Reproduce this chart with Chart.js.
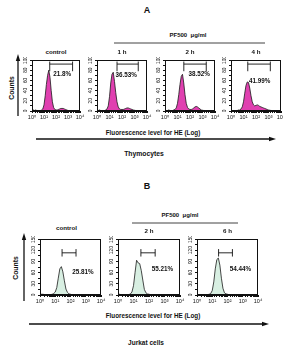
<!DOCTYPE html>
<html><head><meta charset="utf-8">
<script src="https://cdn.jsdelivr.net/npm/chart.js@4.4.1/dist/chart.umd.min.js"></script>
<style>
html,body{margin:0;padding:0;background:#fff;}
body{width:283px;height:350px;position:relative;overflow:hidden;font-family:"Liberation Sans",Arial,sans-serif;-webkit-font-smoothing:antialiased;}
.t{position:absolute;transform:translate(-50%,-50%);white-space:nowrap;font-weight:bold;color:#111;line-height:1;}
.v{position:absolute;transform:translate(-50%,-50%) rotate(-90deg);white-space:nowrap;font-weight:bold;color:#111;line-height:1;}
svg{position:absolute;left:0;top:0;}
</style></head><body>
<svg width="283" height="350">
  <g stroke="#111" fill="#111">
    <line x1="114" y1="43" x2="265" y2="43" stroke-width="0.8"/>
    <line x1="18" y1="116" x2="18" y2="60" stroke-width="1.3"/>
    <polygon points="18,54 15.8,61 20.2,61" stroke="none"/>
    <line x1="36" y1="139" x2="270" y2="139" stroke-width="1.3"/>
    <polygon points="276,139 269,136.8 269,141.2" stroke="none"/>
    <line x1="132" y1="223" x2="238" y2="223" stroke-width="0.8"/>
    <line x1="24" y1="301" x2="24" y2="239" stroke-width="1.3"/>
    <polygon points="24,233 21.8,240 26.2,240" stroke="none"/>
    <line x1="29" y1="324" x2="263" y2="324" stroke-width="1.3"/>
    <polygon points="269,324 262,321.8 262,326.2" stroke="none"/>
  </g>
</svg>
<div class="t" style="left:147px;top:10px;font-size:9px">A</div>
<div class="t" style="left:188px;top:35px;font-size:6px">PF500 &nbsp;μg/ml</div>
<div class="v" style="left:12px;top:88px;font-size:6.8px">Counts</div>
<div class="t" style="left:153px;top:133px;font-size:6.3px">Fluorescence level for HE (Log)</div>
<div class="t" style="left:144px;top:154px;font-size:6.8px">Thymocytes</div>
<div class="t" style="left:147px;top:186px;font-size:9px">B</div>
<div class="t" style="left:180px;top:215px;font-size:6px">PF500 &nbsp;μg/ml</div>
<div class="v" style="left:16px;top:268px;font-size:6.8px">Counts</div>
<div class="t" style="left:153px;top:316px;font-size:6.3px">Fluorescence level for HE (Log)</div>
<div class="t" style="left:146px;top:343px;font-size:6.5px">Jurkat cells</div>
<script>
// ---- data ----
const fluor = [1,1.26,1.58,2,2.51,3.16,3.98,5.01,6.31,7.94,10,12.6,15.8,20,25.1,31.6,39.8,50.1,63.1,79.4,100,126,158,200,251,316,398,501,631,794,1000,1259,1585,1995,2512,3162,3981,5012,6310,7943,10000];
const thymoControl = [1,2,1,2,1,1,1,1,2,4,12,30,52,70,80,66,40,18,7,3,2,2,3,4,5,5,5,4,3,2,1,1,1,1,0.5,0.5,0.5,0.5,0.5,0.5,0.5];
const thymo1h      = [1,1,2,1,1,1,1,2,4,10,28,55,72,76,58,36,18,8,4,3,3,3,4,5,6,6,5,4,3,2,1.5,1,1,1,0.5,0.5,0.5,0.5,0.5,0.5,0.5];
const thymo2h      = [1,1,1,2,1,1,1,2,3,6,15,32,52,68,72,55,32,15,7,4,3,3,4,6,8,9,8,6,4,2,1.5,1,1,0.5,0.5,0.5,0.5,0.5,0.5,0.5,0.5];
const thymo4h      = [1,1,1,1,1,1,2,2,4,8,18,35,50,57,56,45,30,18,12,10,11,12,11,9,8,7,6,5,4,3,2,1.5,1,1,0.5,0.5,0.5,0.5,0.5,0.5,0.5];
const jurkatControl= [3,2,2,1,1,1,1,1,2,4,8,20,45,70,76,62,38,16,7,3,2,1,1,1,1,1,1,1,1,1,1,1,1,1,1,1,1,1,1,1,1];
const jurkat2h     = [2,2,1,1,1,1,1,1,3,8,25,60,93,86,84,66,40,15,6,3,2,1,1,1,1,1,1,1,1,1,1,1,1,1,1,1,1,1,1,1,1];
const jurkat6h     = [2,1,1,1,1,1,1,1,2,4,12,35,70,95,99,80,45,18,6,3,2,1,1,1,1,1,1,1,1,1,1,1,1,1,1,1,1,1,1,1,1];
const thymoTitles = ['control','1 h','2 h','4 h'];
const jurkatTitles = ['control','2 h','6 h'];
const thymoPercents = ['21.8%','36.53%','38.52%','41.99%'];
const jurkatPercents = ['25.81%','55.21%','54.44%'];
const thymoGates = [[30,2400],[40,2000],[32,2000],[22,1400]];
const jurkatGates = [[28,230],[30,250],[26,210]];
const xTickValues = [1,10,100,1000,10000];
const xTickLabels = ['10⁰','10¹','10²','10³','10⁴'];
const thymoYTicks = [0,20,40,60,80,100];
const jurkatYTicks = [0,30,60,90,120,150];

// ---- layout ----
const thymoBoxes = [[32,60,48,51],[97,60,50,51],[165,60,50,51],[231,60,50,51]];
const jurkatBoxes = [[40,239,61,56],[118,239,62,56],[197,239,61,56]];
const thymoTitleY = [52,52,52,52];
const jurkatTitleY = [228,231,231];
const thymoPctPos = [[60,72],[30,70],[75,72],[28,58]];
const jurkatPctPos = [[130,62],[150,68],[140,70]];

const FONT = '"Liberation Sans", "DejaVu Sans", Arial, sans-serif';

function addText(txt, x, y, size){
  const d=document.createElement('div'); d.className='t';
  d.style.left=x+'px'; d.style.top=y+'px'; d.style.fontSize=size+'px';
  d.textContent=txt; document.body.appendChild(d);
}

function hist(box, ys, o){
  const padL=12,padT=3,padR=8,padB=12;
  const div=document.createElement('div');
  div.style.cssText=`position:absolute;left:${box[0]-padL}px;top:${box[1]-padT}px;width:${box[2]+padL+padR}px;height:${box[3]+padT+padB}px`;
  const c=document.createElement('canvas'); div.appendChild(c); document.body.appendChild(div);
  const deco={id:'deco'+Math.random().toString(36).slice(2),afterDraw(chart){
    const ctx=chart.ctx, a=chart.chartArea, xs=chart.scales.x, yS=chart.scales.y;
    ctx.save();
    ctx.strokeStyle='#111'; ctx.lineWidth=1;
    ctx.strokeRect(a.left+0.5,a.top+0.5,a.right-a.left-1,a.bottom-a.top-1);
    ctx.fillStyle='#111'; ctx.font='4.8px '+FONT; ctx.textAlign='center'; ctx.textBaseline='middle';
    o.yTicks.forEach(v=>{const py=yS.getPixelForValue(v); ctx.save(); ctx.translate(a.left-6,py); ctx.rotate(-Math.PI/2); ctx.fillText(String(v),0,0); ctx.restore();});
    const x0=xs.getPixelForValue(o.gate[0]), x1=xs.getPixelForValue(o.gate[1]);
    const yl=yS.getPixelForValue(o.gateY), ya=yS.getPixelForValue(o.gateY+o.gateUp), yb=yS.getPixelForValue(o.gateY-o.gateDown);
    ctx.lineWidth=0.9; ctx.beginPath();
    ctx.moveTo(x0,ya); ctx.lineTo(x0,yb); ctx.moveTo(x0,yl); ctx.lineTo(x1,yl); ctx.moveTo(x1,ya); ctx.lineTo(x1,yb); ctx.stroke();
    ctx.font='bold '+o.pctSize+'px '+FONT; ctx.textAlign='left';
    ctx.fillText(o.pct, xs.getPixelForValue(o.pctPos[0]), yS.getPixelForValue(o.pctPos[1]));
    ctx.restore();
  }};
  new Chart(c,{type:'line',
    data:{datasets:[{data:fluor.map((x,i)=>({x,y:ys[i]})),fill:'origin',backgroundColor:o.fill,borderColor:'#1a1a1a',borderWidth:0.8,pointRadius:0,tension:0}]},
    options:{responsive:true,maintainAspectRatio:false,animation:false,events:[],
      layout:{padding:{left:0,top:padT,right:padR,bottom:0}},
      plugins:{legend:{display:false},tooltip:{enabled:false}},
      scales:{
        x:{type:'logarithmic',min:1,max:10000,
          afterFit:s=>{s.height=padB;s.paddingLeft=0;s.paddingRight=0;},
          grid:{drawOnChartArea:false,drawTicks:true,tickLength:2,color:'#111'},
          border:{color:'#111',width:1},
          ticks:{autoSkip:false,maxRotation:0,minRotation:0,padding:1.5,color:'#111',font:{size:5.5,family:FONT},
            callback:v=>{const i=xTickValues.indexOf(Math.round(v)); return (i>=0 && Math.abs(v-xTickValues[i])<1e-6)?xTickLabels[i]:'';}}},
        y:{min:0,max:o.ymax,afterFit:s=>{s.width=padL;},
          ticks:{display:false,stepSize:o.ystep},
          grid:{drawOnChartArea:false,drawTicks:true,tickLength:2,color:'#111'},
          border:{color:'#111',width:1}}}},
    plugins:[deco]});
}

thymoBoxes.forEach((b,i)=>{
  const series=[thymoControl,thymo1h,thymo2h,thymo4h][i];
  hist(b,series,{ymax:100,ystep:10,yTicks:thymoYTicks,fill:'#e040b0',gate:thymoGates[i],gateY:92,gateUp:5,gateDown:14,pct:thymoPercents[i],pctPos:thymoPctPos[i],pctSize:6.3});
  addText(thymoTitles[i], b[0]+b[2]/2, thymoTitleY[i], 6.2);
});
jurkatBoxes.forEach((b,i)=>{
  const series=[jurkatControl,jurkat2h,jurkat6h][i];
  hist(b,series,{ymax:150,ystep:15,yTicks:jurkatYTicks,fill:'#d8efe2',gate:jurkatGates[i],gateY:113,gateUp:10,gateDown:10,pct:jurkatPercents[i],pctPos:jurkatPctPos[i],pctSize:6.3});
  addText(jurkatTitles[i], b[0]+b[2]/2+(i===0?-4:0), jurkatTitleY[i], 6.2);
});
</script>
</body></html>
